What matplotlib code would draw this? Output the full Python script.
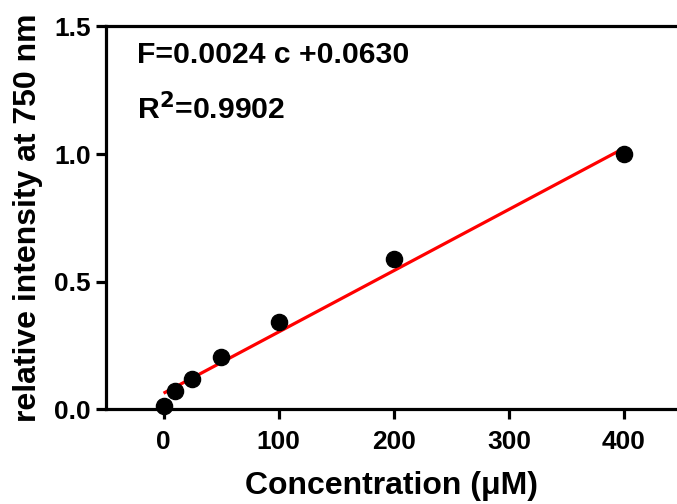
import matplotlib
matplotlib.use("Agg")
import matplotlib.pyplot as plt

conc = [0, 10, 25, 50, 100, 200, 400]
intensity = [0.013, 0.072, 0.118, 0.204, 0.341, 0.588, 1.0]
slope = 0.0024
intercept = 0.0630
fit_x = [0, 400]
x_ticks = [0, 100, 200, 300, 400]
y_ticks = [0.0, 0.5, 1.0, 1.5]

plt.rcParams['font.family'] = ['Liberation Sans', 'DejaVu Sans']
plt.rcParams['font.weight'] = 'bold'

fig = plt.figure(figsize=(6.77, 5.04), dpi=100)
ax = fig.add_axes([106/677, 1 - 409.3/504, 1 - 106/677, (409.3 - 26.4)/504])

fit_y = [slope * x + intercept for x in fit_x]
ax.plot(fit_x, fit_y, color='#ff0000', lw=2.3, zorder=2, solid_capstyle='butt')
ax.scatter(conc, intensity, s=135, color='black', zorder=3, clip_on=False)

ax.set_xlim(-50, 446)
ax.set_ylim(0, 1.5)
ax.set_xticks(x_ticks)
ax.set_yticks(y_ticks)
ax.set_xticklabels([str(v) for v in x_ticks])
ax.set_yticklabels([f"{v:.1f}" for v in y_ticks])

for s in ['left', 'bottom', 'top']:
    ax.spines[s].set_linewidth(2.3)
ax.spines['right'].set_visible(False)
ax.tick_params(axis='both', direction='out', length=7, width=2.3, labelsize=19)
ax.tick_params(axis='x', top=False, pad=8)
ax.tick_params(axis='y', pad=4)
for lab in ax.get_xticklabels() + ax.get_yticklabels():
    lab.set_fontweight('bold')

ax.set_xlabel('Concentration (μM)', fontsize=23, fontweight='bold', labelpad=12)
ax.set_ylabel('relative intensity at 750 nm', fontsize=23, fontweight='bold', labelpad=8)

ax.text(137/677, 1 - 63/504, 'F=0.0024 c +0.0630', transform=fig.transFigure,
        fontsize=21.7, fontweight='bold', ha='left', va='baseline')
ax.text(137/677, 1 - 119/504, r'R$^{\mathbf{2}}$=0.9902', transform=fig.transFigure,
        fontsize=21.7, fontweight='bold', ha='left', va='baseline')

fig.savefig('out.png', dpi=100)
